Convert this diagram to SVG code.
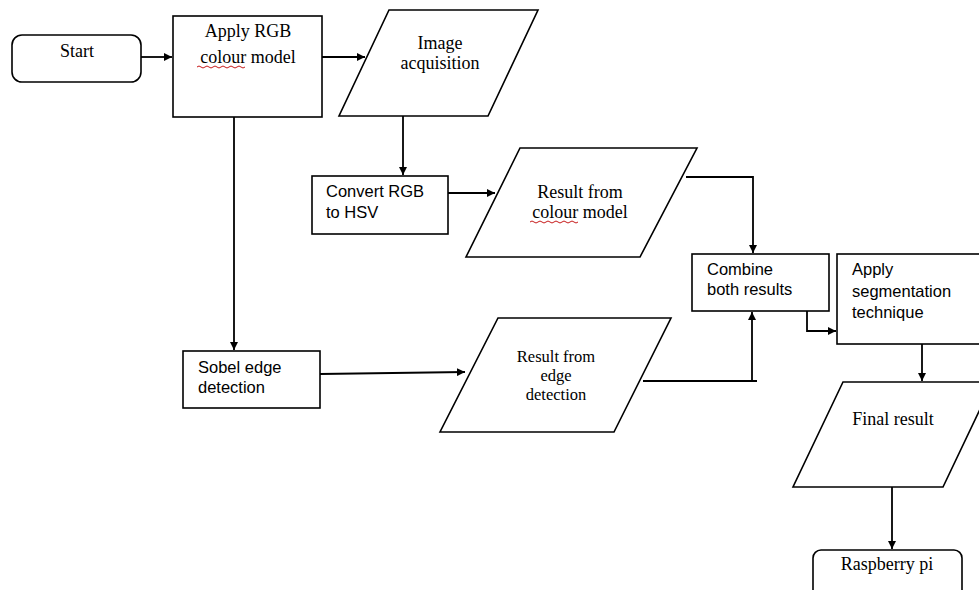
<svg xmlns="http://www.w3.org/2000/svg" width="979" height="590" viewBox="0 0 979 590">
<defs>
<marker id="ah" viewBox="0 0 10 10" refX="10" refY="5" markerWidth="8" markerHeight="8" markerUnits="userSpaceOnUse" orient="auto">
<path d="M0,0 L10,5 L0,10 z" fill="#000"/>
</marker>
</defs>
<style>
.shape{fill:#fff;stroke:#000;stroke-width:1.6}
.serif{font-family:"Liberation Serif","Times New Roman",serif;font-size:18px;fill:#000}
.tight{font-size:16.5px}
.sans{font-family:"Liberation Sans",Arial,sans-serif;font-size:16.5px;fill:#000}
.conn{fill:none;stroke:#000;stroke-width:1.8}
.arr{marker-end:url(#ah)}
.sq{fill:none;stroke:#c00000;stroke-width:0.9}
</style>
<rect width="979" height="590" fill="#fff"/>

<g id="connectors">
<line class="conn arr" x1="141" y1="57" x2="172" y2="57"/>
<line class="conn arr" x1="322" y1="57" x2="365" y2="57"/>
<line class="conn arr" x1="403" y1="116" x2="403" y2="175"/>
<line class="conn arr" x1="234" y1="117" x2="234" y2="350"/>
<line class="conn arr" x1="448" y1="193" x2="495" y2="193"/>
<polyline class="conn arr" points="686,177 753,177 753,253"/>
<line class="conn arr" x1="320" y1="374" x2="465" y2="372"/>
<polyline class="conn" points="643,381 757,381"/>
<line class="conn arr" x1="752" y1="381" x2="752" y2="312"/>
<polyline class="conn arr" points="807,311 807,331 836,331"/>
<line class="conn arr" x1="922" y1="344" x2="922" y2="381"/>
<line class="conn arr" x1="892" y1="487" x2="892" y2="549"/>
</g>

<g id="start">
<rect class="shape" x="12" y="35" width="129" height="47" rx="10"/>
<text class="serif" x="77" y="57" text-anchor="middle">Start</text>
</g>

<g id="apply-rgb">
<rect class="shape" x="173" y="16" width="149" height="101"/>
<text class="serif" x="248" y="37" text-anchor="middle">Apply RGB</text>
<text class="serif" x="248" y="63" text-anchor="middle">colour model</text>
<path class="sq" d="M197,67 q2,-2 4,0 t4,0 t4,0 t4,0 t4,0 t4,0 t4,0 t4,0 t4,0 t4,0 t4,0 t4,0"/>
</g>

<g id="image-acquisition">
<polygon class="shape" points="389,10 538,10 488,116 339,116"/>
<text class="serif" x="440" y="49" text-anchor="middle">Image</text>
<text class="serif" x="440" y="69" text-anchor="middle">acquisition</text>
</g>

<g id="convert-rgb-hsv">
<rect class="shape" x="312" y="176" width="136" height="58"/>
<text class="sans" x="326" y="197">Convert RGB</text>
<text class="sans" x="326" y="218">to HSV</text>
</g>

<g id="result-colour">
<polygon class="shape" points="520,148 697,148 640,257 466,257"/>
<text class="serif" x="580" y="198" text-anchor="middle">Result from</text>
<text class="serif" x="580" y="218" text-anchor="middle">colour model</text>
<path class="sq" d="M530,222 q2,-2 4,0 t4,0 t4,0 t4,0 t4,0 t4,0 t4,0 t4,0 t4,0 t4,0 t4,0 t4,0"/>
</g>

<g id="sobel">
<rect class="shape" x="183" y="351" width="137" height="57"/>
<text class="sans" x="198" y="373">Sobel edge</text>
<text class="sans" x="198" y="393">detection</text>
</g>

<g id="result-edge">
<polygon class="shape" points="498,318 671,318 614,432 440,432"/>
<text class="serif tight" x="556" y="362" text-anchor="middle">Result from</text>
<text class="serif tight" x="556" y="381" text-anchor="middle">edge</text>
<text class="serif tight" x="556" y="400" text-anchor="middle">detection</text>
</g>

<g id="combine">
<rect class="shape" x="692" y="254" width="137" height="57"/>
<text class="sans" x="707" y="275">Combine</text>
<text class="sans" x="707" y="295">both results</text>
</g>

<g id="segmentation">
<rect class="shape" x="837" y="254" width="145" height="90"/>
<text class="sans" x="852" y="275">Apply</text>
<text class="sans" x="852" y="297">segmentation</text>
<text class="sans" x="852" y="318">technique</text>
</g>

<g id="final-result">
<polygon class="shape" points="843,382 993,382 943,487 793,487"/>
<text class="serif" x="893" y="425" text-anchor="middle">Final result</text>
</g>

<g id="raspberry-pi">
<rect class="shape" x="813" y="550" width="149" height="60" rx="8"/>
<text class="serif" x="887" y="570" text-anchor="middle">Raspberry pi</text>
</g>
</svg>
